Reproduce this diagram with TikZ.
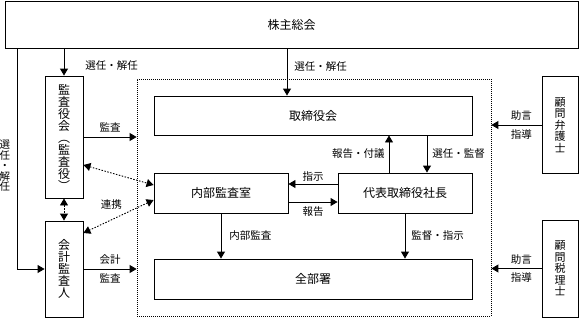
\documentclass[tikz,border=0pt]{standalone}
\usepackage{fontspec}
\setmainfont{Noto Sans CJK JP}
\usepackage{tikz}
\usetikzlibrary{arrows.meta,calc,positioning}

\begin{document}
\begin{tikzpicture}[x=1pt,y=-1pt,line width=0.9pt,
  box/.style={draw,inner sep=0pt,font=\fontsize{12}{12}\selectfont},
  vbox/.style={box,align=center},
  lbl/.style={inner sep=1pt,font=\fontsize{10.5}{10.5}\selectfont},
  arr/.style={-{Triangle[length=7pt,width=8pt]}},
  dotarr/.style={{Triangle[length=7pt,width=8pt]}-{Triangle[length=7pt,width=8pt]},dash pattern=on 1.5pt off 1.5pt}]
\useasboundingbox (0,0) rectangle (582,319);
\node[draw,line width=0.8pt,dash pattern=on 1pt off 1pt,minimum width=354pt,minimum height=237pt] (frame) at (314,197.5) {};
\node[box,minimum width=573pt,minimum height=47pt] (soukai) at (291.5,24.5) {株主総会};
\node[vbox,minimum width=38pt,minimum height=122pt] (kansayaku) at (64,137) {監\\査\\役\\会\\︵\\監\\査\\役\\︶};
\node[vbox,minimum width=38pt,minimum height=96pt] (kaikei) at (64,269) {会\\計\\監\\査\\人};
\node[box,minimum width=318pt,minimum height=39pt] (torishimari) at (313,115.5) {取締役会};
\node[box,minimum width=134pt,minimum height=40pt] (naibu) at (221,193) {内部監査室};
\node[box,minimum width=134pt,minimum height=40pt] (shacho) at (405,193) {代表取締役社長};
\node[box,minimum width=318pt,minimum height=40pt] (zenbusho) at (313,279) {全部署};
\node[vbox,font=\fontsize{11}{11.5}\selectfont,minimum width=36pt,minimum height=97pt] (bengoshi) at (560,125) {顧\\問\\弁\\護\\士};
\node[vbox,font=\fontsize{11}{11.5}\selectfont,minimum width=36pt,minimum height=97pt] (zeirishi) at (560,268.5) {顧\\問\\税\\理\\士};
\draw[arr] (kansayaku.north |- soukai.south) -- (kansayaku.north) node[lbl,pos=0.64,right=20pt] {選任・解任};
\draw[arr] ([xshift=-26pt]torishimari.north |- soukai.south) -- ([xshift=-26pt]torishimari.north) node[lbl,pos=0.375,right=6pt] {選任・解任};
\draw[arr] ([xshift=13pt]soukai.south west) |- (kaikei.west) node[lbl,pos=0.266,left=6pt,align=center] {選\\任\\・\\解\\任};
\draw[arr] (kansayaku.east) -- (kansayaku.east -| frame.west) node[lbl,midway,above=3pt] {監査};
\draw[arr] (kaikei.east) -- (kaikei.east -| frame.west) node[lbl,midway,above=3pt] {会計} node[lbl,midway,below=3pt] {監査};
\draw[dotarr] (kansayaku.south) -- (kaikei.north);
\draw[dotarr] ([yshift=-28pt]kansayaku.east) -- ([yshift=8pt]naibu.west);
\draw[dotarr] ([yshift=-7pt]naibu.west) -- ([yshift=36pt]kaikei.east) node[lbl,pos=0.6,above=9pt] {連携};
\draw[arr] ([xshift=-16pt]shacho.north) -- ([xshift=-16pt]shacho.north |- torishimari.south) node[lbl,midway,left=3pt] {報告・付議};
\draw[arr] ([xshift=22pt]shacho.north |- torishimari.south) -- ([xshift=22pt]shacho.north) node[lbl,midway,right=4pt] {選任・監督};
\draw[arr] ([yshift=9pt]shacho.west) -- ([yshift=9pt]shacho.west -| naibu.east) node[lbl,midway,above=1pt] {指示};
\draw[arr] ([yshift=-9pt]naibu.east) -- ([yshift=-9pt]naibu.east -| shacho.west) node[lbl,midway,below=3pt] {報告};
\draw[arr] (naibu.south) -- (naibu.south |- zenbusho.north) node[lbl,midway,right=7pt] {内部監査};
\draw[arr] (shacho.south) -- (shacho.south |- zenbusho.north) node[lbl,midway,right=5pt] {監督・指示};
\foreach \n in {bengoshi,zeirishi}
  \draw[arr] (\n.west) -- (\n.west -| frame.east) node[lbl,midway,above=3pt,xshift=5pt] {助言} node[lbl,midway,below=3pt,xshift=5pt] {指導};
\end{tikzpicture}
\end{document}
